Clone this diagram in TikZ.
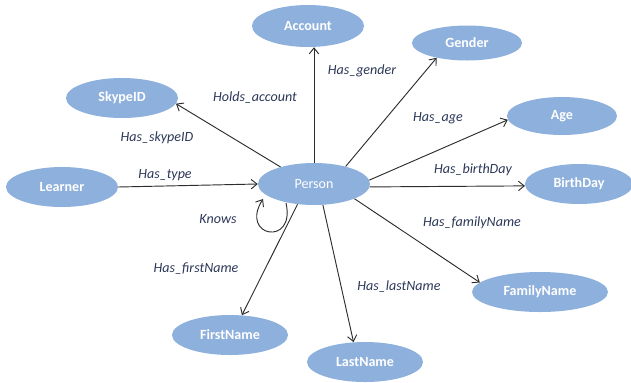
\documentclass[tikz,border=0pt]{standalone}
\usepackage{fontspec}
\setmainfont{Carlito}
\usetikzlibrary{shapes.geometric,arrows.meta}
\definecolor{entfill}{RGB}{142,176,220}
\definecolor{relcol}{RGB}{44,56,88}
\definecolor{edgecol}{RGB}{45,45,45}

\begin{document}
\begin{tikzpicture}[x=0.03cm,y=-0.03cm,
  ent/.style={ellipse,fill=entfill,inner sep=0pt,text=white,font=\fontsize{12}{14}\selectfont\bfseries},
  rel/.style={text=relcol,font=\fontsize{12}{14}\selectfont\itshape},
  arr/.style={draw=edgecol,line width=0.8pt,-{Straight Barb[length=5pt,width=8pt]}}]

\useasboundingbox (0,0) rectangle (631,382);

% The entities
\node[ent,minimum width=3.36cm,minimum height=1.26cm,font=\fontsize{12}{14}\selectfont] (pn) at (314,184) {Person};
\node[ent,minimum width=3.36cm,minimum height=1.26cm] (acc) at (308,26) {Account};
\node[ent,minimum width=3.3cm,minimum height=1.05cm] (gen) at (467,43) {Gender};
\node[ent,minimum width=3.36cm,minimum height=1.2cm] (sky) at (122,98) {SkypeID};
\node[ent,minimum width=3.3cm,minimum height=1.14cm] (age) at (562,116) {Age};
\node[ent,minimum width=3.36cm,minimum height=1.2cm] (le) at (62,187) {Learner};
\node[ent,minimum width=3.24cm,minimum height=1.2cm] (bd) at (579,184) {BirthDay};
\node[ent,minimum width=4.08cm,minimum height=1.2cm] (fam) at (540,292) {FamilyName};
\node[ent,minimum width=3.48cm,minimum height=1.2cm] (fn) at (230,335) {FirstName};
\node[ent,minimum width=3.48cm,minimum height=1.2cm] (ln) at (365,362) {LastName};

% The relations
\draw[arr] (pn.north) -- (pn.north |- acc.south);
\draw[arr] (pn.153) -- (sky.-6);
\draw[arr] (le.east) -- (pn.west);
\draw[arr] (pn.29) -- (gen.206);
\draw[arr] (pn.4) -- (age.184);
\draw[arr] (pn.-3) -- (bd.182);
\draw[arr] (pn.-20) -- (fam.171);
\draw[arr] (pn.-67) -- (ln.120);
\draw[arr] (pn.231) -- (fn.59);

% Person knows person
\coordinate (kna) at ([shift={(-28,19)}]pn.center);
\coordinate (knb) at ([shift={(-51,15)}]pn.center);
\draw[arr] (kna) .. controls +(10,44) and +(-24,38) .. (knb);

% Relation names
\node[rel] (lacc) at (255,98) {Holds\_account};
\node[rel] (lsky) at (157,138) {Has\_skypeID};
\node[rel] (lle) at (165,175) {Has\_type};
\node[rel] (lgen) at (362,71) {Has\_gender};
\node[rel] (lage) at (438,118) {Has\_age};
\node[rel] (lbd) at (473,170) {Has\_birthDay};
\node[rel] (lkn) at (218,219) {Knows};
\node[rel] (lfn) at (196,269) {Has\_firstName};
\node[rel] (lfam) at (472,223) {Has\_familyName};
\node[rel] (lln) at (399,287) {Has\_lastName};
\end{tikzpicture}
\end{document}
